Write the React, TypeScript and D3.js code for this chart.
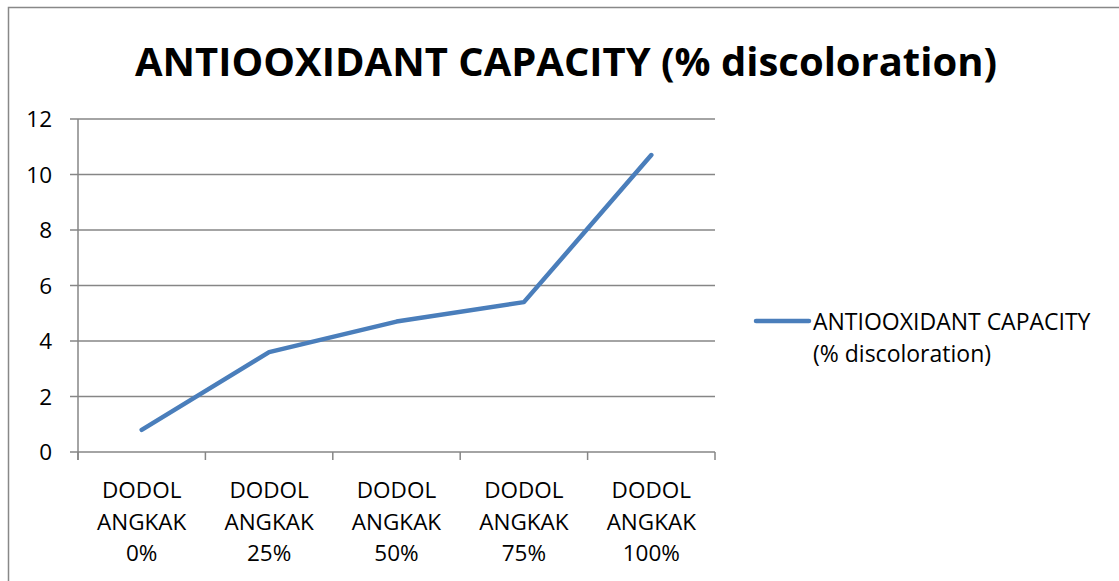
import React, { useEffect, useRef } from "react";
import * as d3 from "d3";

const categories = [
  ["DODOL", "ANGKAK", "0%"],
  ["DODOL", "ANGKAK", "25%"],
  ["DODOL", "ANGKAK", "50%"],
  ["DODOL", "ANGKAK", "75%"],
  ["DODOL", "ANGKAK", "100%"],
];
const values = [0.8, 3.6, 4.7, 5.4, 10.7];
const yTicks = [0, 2, 4, 6, 8, 10, 12];
const seriesName = ["ANTIOOXIDANT CAPACITY", "(% discoloration)"];
const title = "ANTIOOXIDANT CAPACITY (% discoloration)";

const FONT = "'Open Sans', 'Liberation Sans', sans-serif";

export default function App() {
  const svgRef = useRef<SVGSVGElement>(null);

  useEffect(() => {
    const W = 1119;
    const H = 581;
    const plot = { left: 78, right: 715, top: 119, bottom: 452 };

    const svg = d3.select(svgRef.current).attr("width", W).attr("height", H);
    svg.selectAll("*").remove();

    svg.append("rect").attr("width", W).attr("height", H).attr("fill", "#fff");

    // chart frame (right and bottom edges fall outside the picture)
    svg
      .append("rect")
      .attr("x", 8.5)
      .attr("y", 7.5)
      .attr("width", W + 10)
      .attr("height", H + 10)
      .attr("fill", "none")
      .attr("stroke", "#888")
      .attr("stroke-width", 1.5);

    // title, scaled to the reference width
    const t = svg
      .append("text")
      .attr("x", 566)
      .attr("y", 76)
      .attr("text-anchor", "middle")
      .style("font-family", FONT)
      .style("font-weight", "bold")
      .style("font-size", "36px")
      .text(title);
    const tw = (t.node() as SVGTextElement).getComputedTextLength();
    if (tw > 0) t.style("font-size", `${(36 * 862) / tw}px`);

    const x = d3
      .scaleBand<number>()
      .domain(d3.range(categories.length))
      .range([plot.left, plot.right]);
    const y = d3.scaleLinear().domain([0, 12]).range([plot.bottom, plot.top]);

    // gridlines
    svg
      .append("g")
      .selectAll("line")
      .data(yTicks)
      .join("line")
      .attr("x1", plot.left - 8)
      .attr("x2", plot.right)
      .attr("y1", (d) => y(d))
      .attr("y2", (d) => y(d))
      .attr("stroke", "#868686")
      .attr("stroke-width", 1.5);

    // y axis line
    svg
      .append("line")
      .attr("x1", plot.left)
      .attr("x2", plot.left)
      .attr("y1", plot.top)
      .attr("y2", plot.bottom + 8)
      .attr("stroke", "#868686")
      .attr("stroke-width", 1.5);

    // x tick marks
    svg
      .append("g")
      .selectAll("line")
      .data(d3.range(categories.length + 1))
      .join("line")
      .attr("x1", (i) => plot.left + i * x.bandwidth())
      .attr("x2", (i) => plot.left + i * x.bandwidth())
      .attr("y1", plot.bottom)
      .attr("y2", plot.bottom + 8)
      .attr("stroke", "#868686")
      .attr("stroke-width", 1.5);

    // y labels
    svg
      .append("g")
      .selectAll("text")
      .data(yTicks)
      .join("text")
      .attr("x", 52)
      .attr("y", (d) => y(d) + 8)
      .attr("text-anchor", "end")
      .style("font-family", FONT)
      .style("font-size", "22.5px")
      .attr("fill", "#000")
      .text((d) => d);

    // x labels
    categories.forEach((lines, i) => {
      const cx = (x(i) ?? 0) + x.bandwidth() / 2;
      svg
        .append("text")
        .attr("text-anchor", "middle")
        .style("font-family", FONT)
        .style("font-size", "22.5px")
        .attr("fill", "#000")
        .selectAll("tspan")
        .data(lines)
        .join("tspan")
        .attr("x", cx)
        .attr("y", (_, j) => 498 + j * 31.5)
        .text((d) => d);
    });

    // series line
    const line = d3
      .line<number>()
      .x((_, i) => (x(i) ?? 0) + x.bandwidth() / 2)
      .y((d) => y(d));
    svg
      .append("path")
      .datum(values)
      .attr("d", line)
      .attr("fill", "none")
      .attr("stroke", "#4a7ebb")
      .attr("stroke-width", 4.5)
      .attr("stroke-linecap", "round")
      .attr("stroke-linejoin", "round");

    // legend
    svg
      .append("line")
      .attr("x1", 756)
      .attr("x2", 809)
      .attr("y1", 321)
      .attr("y2", 321)
      .attr("stroke", "#4a7ebb")
      .attr("stroke-width", 4.5)
      .attr("stroke-linecap", "round");
    svg
      .append("g")
      .selectAll("text")
      .data(seriesName)
      .join("text")
      .attr("x", 813)
      .attr("y", (_, i) => 330 + i * 32)
      .style("font-family", FONT)
      .style("font-size", "23px")
      .attr("fill", "#000")
      .text((d) => d);
  }, []);

  return (
    <svg
      ref={svgRef}
      style={{ position: "absolute", left: 0, top: 0, display: "block" }}
    />
  );
}
